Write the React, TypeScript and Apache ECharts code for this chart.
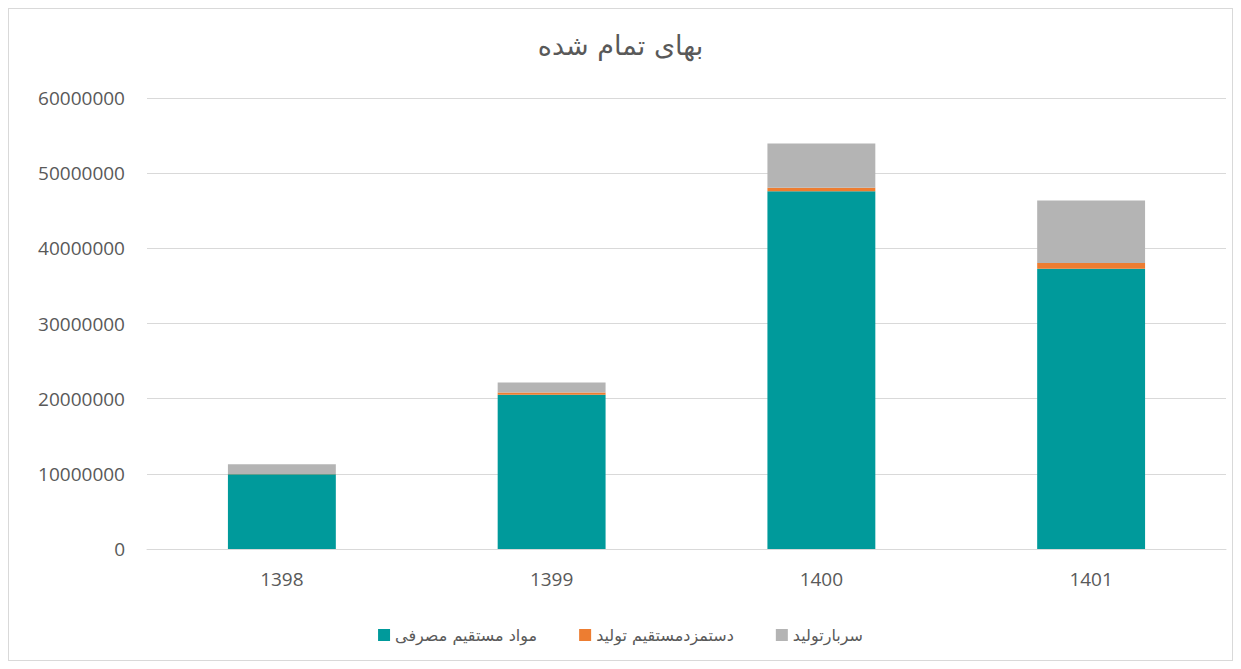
import React, { useEffect, useRef } from "react";
import * as echarts from "echarts";

const categories = ["1398", "1399", "1400", "1401"];
const materials = [9930000, 20530000, 47600000, 37300000];
const labor = [60000, 300000, 450000, 750000];
const overhead = [1270000, 1330000, 5900000, 8310000];
const seriesNames = ["مواد مستقیم مصرفی", "دستمزدمستقیم تولید", "سربارتولید"];
const title = "بهای تمام شده";

export default function App() {
  const ref = useRef<HTMLDivElement>(null);
  useEffect(() => {
    if (!ref.current) return;
    const chart = echarts.init(ref.current, undefined, { renderer: "svg" });
    const font = "DejaVu Sans";
    const numFont = "Open Sans";
    const mk = (name: string, data: number[], color: string) => ({
      name,
      type: "bar",
      stack: "total",
      data,
      barWidth: "40%",
      itemStyle: { color },
      emphasis: { disabled: true },
    });
    chart.setOption({
      animation: false,
      title: {
        text: title,
        left: "center",
        top: 18,
        textStyle: { color: "#595959", fontSize: 27, fontWeight: "normal", fontFamily: font },
      },
      legend: {
        bottom: 12,
        left: "center",
        itemWidth: 12,
        itemHeight: 12,
        itemGap: 42,
        icon: "rect",
        textStyle: { color: "#595959", fontSize: 16, fontFamily: font },
        data: seriesNames,
      },
      grid: { left: 138, right: 6, top: 89, bottom: 111, containLabel: false },
      xAxis: {
        type: "category",
        data: categories,
        axisLine: { lineStyle: { color: "#d9d9d9" } },
        axisTick: { show: false },
        axisLabel: { color: "#595959", fontSize: 19, margin: 20, fontFamily: numFont },
      },
      yAxis: {
        type: "value",
        min: 0,
        max: 60000000,
        interval: 10000000,
        axisLine: { show: false },
        axisTick: { show: false },
        splitLine: { lineStyle: { color: "#d9d9d9" } },
        axisLabel: {
          color: "#595959",
          fontSize: 19,
          margin: 22,
          fontFamily: numFont,
          formatter: (v: number) => String(v),
        },
      },
      series: [
        mk(seriesNames[0], materials, "#009a9b"),
        mk(seriesNames[1], labor, "#ed7d31"),
        mk(seriesNames[2], overhead, "#b4b4b4"),
      ],
    });
    return () => chart.dispose();
  }, []);
  return (
    <div
      ref={ref}
      style={{ width: 1225, height: 653, border: "1px solid #d9d9d9", boxSizing: "border-box" }}
    />
  );
}
